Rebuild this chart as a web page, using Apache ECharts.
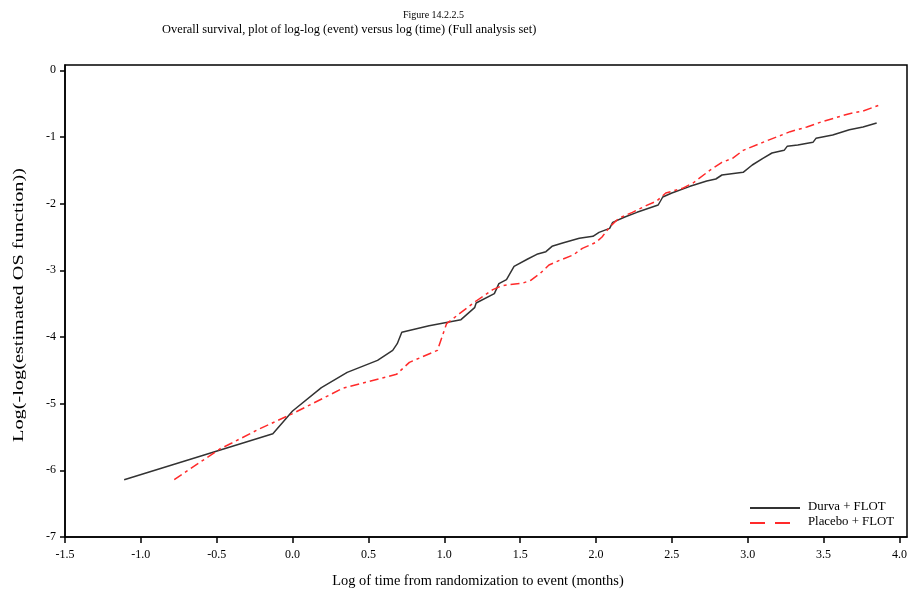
<!DOCTYPE html>
<html>
<head>
<meta charset="utf-8">
<script src="https://cdn.jsdelivr.net/npm/echarts@6/dist/echarts.min.js"></script>
<style>
	html, body { margin: 0; padding: 0; background: #fff; }
	#chart { width: 912px; height: 595px; }
</style>
</head>
<body>
<div id="chart"></div>
<script>
	// log(time) and log(-log(S))
	var durvaX = [-1.11, -0.13, 0.0, 0.19, 0.36, 0.56, 0.66, 0.69, 0.72, 0.90, 1.11, 1.14, 1.20, 1.21, 1.33, 1.36, 1.41, 1.46, 1.55, 1.61, 1.67, 1.71, 1.78, 1.89, 1.98, 2.02, 2.09, 2.11, 2.19, 2.27, 2.41, 2.44, 2.50, 2.62, 2.73, 2.79, 2.83, 2.97, 3.03, 3.10, 3.16, 3.24, 3.26, 3.33, 3.43, 3.45, 3.56, 3.67, 3.76, 3.85];
	var durvaY = [-6.14, -5.45, -5.11, -4.76, -4.53, -4.35, -4.20, -4.10, -3.93, -3.83, -3.74, -3.68, -3.56, -3.49, -3.35, -3.20, -3.14, -2.94, -2.83, -2.76, -2.72, -2.64, -2.59, -2.52, -2.49, -2.43, -2.37, -2.28, -2.20, -2.13, -2.02, -1.90, -1.84, -1.74, -1.66, -1.63, -1.57, -1.53, -1.42, -1.32, -1.24, -1.20, -1.14, -1.12, -1.08, -1.02, -0.97, -0.89, -0.85, -0.79];
	var placeboX = [-0.78, -0.48, -0.40, -0.22, 0.0, 0.20, 0.33, 0.685, 0.77, 0.955, 1.015, 1.10, 1.21, 1.32, 1.38, 1.52, 1.57, 1.63, 1.69, 1.76, 1.85, 1.91, 2.00, 2.04, 2.09, 2.15, 2.24, 2.33, 2.40, 2.46, 2.57, 2.64, 2.75, 2.83, 2.90, 2.97, 3.10, 3.19, 3.28, 3.39, 3.49, 3.58, 3.67, 3.76, 3.87];
	var placeboY = [-6.14, -5.68, -5.59, -5.38, -5.15, -4.92, -4.77, -4.56, -4.38, -4.20, -3.80, -3.65, -3.46, -3.29, -3.23, -3.19, -3.15, -3.05, -2.92, -2.85, -2.77, -2.67, -2.58, -2.50, -2.35, -2.22, -2.13, -2.03, -1.96, -1.84, -1.77, -1.69, -1.50, -1.38, -1.32, -1.20, -1.08, -1.00, -0.92, -0.85, -0.77, -0.71, -0.65, -0.61, -0.52];
	var seriesNames = ["Durva + FLOT", "Placebo + FLOT"];

	function pairs(xs, ys) {
		return xs.map(function (x, i) { return [x, ys[i]]; });
	}

	var font = "Liberation Serif";
	var myChart = echarts.init(document.getElementById("chart"));
	var option = {
		animation: false,
		backgroundColor: "#fff",
		title: [
			{
				text: "Figure 14.2.2.5",
				left: 398,
				top: 5,
				textStyle: { fontFamily: font, fontSize: 10, fontWeight: "normal", color: "#000" }
			},
			{
				text: "Overall survival, plot of log-log (event) versus log (time) (Full analysis set)",
				left: 157,
				top: 19,
				textStyle: { fontFamily: font, fontSize: 12.4, fontWeight: "normal", color: "#000" }
			}
		],
		grid: {
			left: 65,
			right: 5,
			top: 65,
			bottom: 58,
			show: true,
			borderColor: "#000",
			borderWidth: 1.5
		},
		xAxis: {
			type: "value",
			min: -1.5,
			max: 4.05,
			interval: 0.5,
			name: "Log of time from randomization to event (months)",
			nameLocation: "middle",
			nameGap: 37,
			nameTextStyle: { fontFamily: font, fontSize: 14.4, color: "#000", padding: [0, 16, 0, 0] },
			splitLine: { show: false },
			axisLine: { show: true, onZero: false, lineStyle: { color: "#000", width: 1.5 } },
			axisTick: { show: true, length: 6, lineStyle: { color: "#000", width: 1.5 } },
			axisLabel: {
				showMaxLabel: false,
				fontFamily: font, fontSize: 12, color: "#000", margin: 12,
				formatter: function (v) { return v.toFixed(1); }
			}
		},
		yAxis: {
			type: "value",
			min: -7,
			max: 0.08,
			interval: 1,
			splitLine: { show: false },
			axisLine: { show: true, onZero: false, lineStyle: { color: "#000", width: 1.5 } },
			axisTick: { show: true, length: 5, lineStyle: { color: "#000", width: 1.5 } },
			axisLabel: {
				showMaxLabel: false,
				fontFamily: font, fontSize: 12, color: "#000", margin: 9
			}
		},
		series: [
			{
				name: seriesNames[0],
				type: "line",
				showSymbol: false,
				symbol: "none",
				lineStyle: { color: "#333", width: 1.5 },
				data: pairs(durvaX, durvaY)
			},
			{
				name: seriesNames[1],
				type: "line",
				showSymbol: false,
				symbol: "none",
				lineStyle: { color: "#ff2a2a", width: 1.5, type: [9, 4, 3, 4] },
				data: pairs(placeboX, placeboY)
			}
		],
		graphic: [
			// y axis title, stretched along its length like the reference
			{
				type: "text", x: 19, y: 305, rotation: Math.PI / 2, scaleX: 1.45,
				style: { text: "Log(-log(estimated OS function))", font: "14px " + font, fill: "#000", align: "center", verticalAlign: "middle" }
			},
			{ type: "line", shape: { x1: 750, y1: 508, x2: 800, y2: 508 }, style: { stroke: "#333", lineWidth: 2 } },
			{ type: "text", left: 808, top: 500, style: { text: seriesNames[0], font: "12.8px " + font, fill: "#000" } },
			{ type: "line", shape: { x1: 750, y1: 523, x2: 800, y2: 523 }, style: { stroke: "#ff2a2a", lineWidth: 2, lineDash: [15, 10] } },
			{ type: "text", left: 808, top: 515, style: { text: seriesNames[1], font: "12.8px " + font, fill: "#000" } }
		]
	};
	myChart.setOption(option);
</script>
</body>
</html>
